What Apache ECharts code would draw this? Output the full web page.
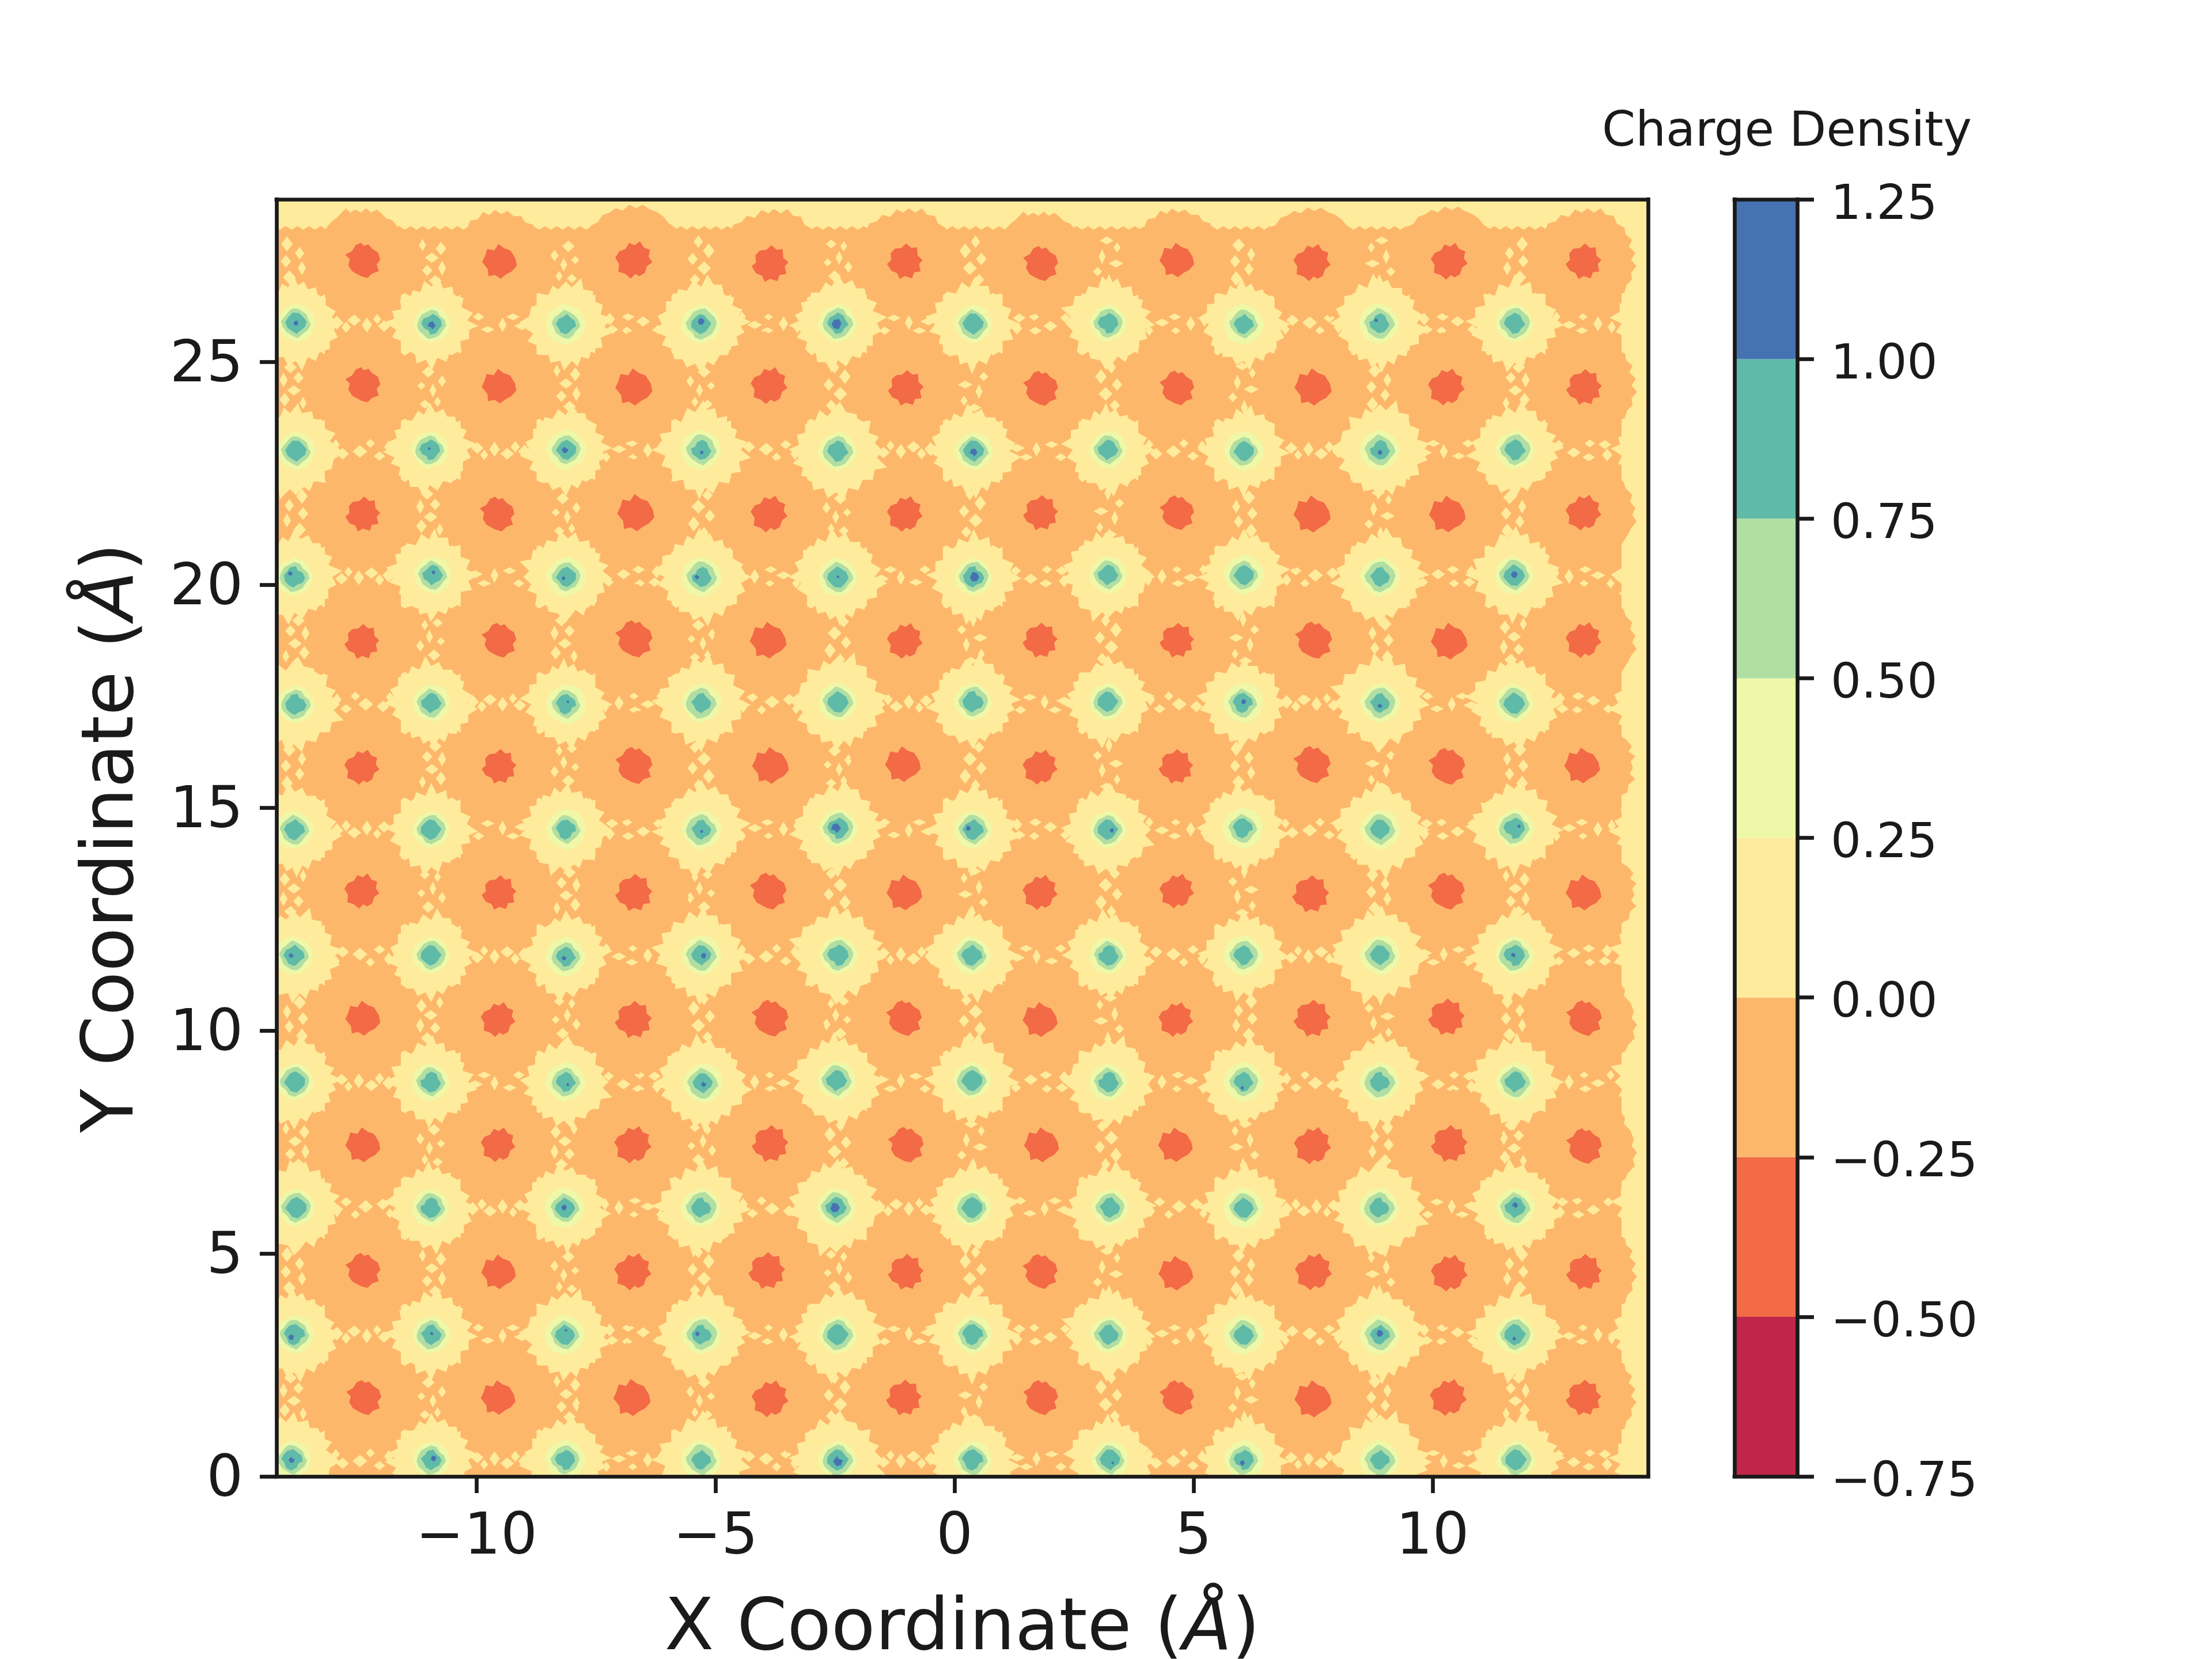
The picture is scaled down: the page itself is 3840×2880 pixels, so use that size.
<!DOCTYPE html>
<html><head><meta charset="utf-8">
<style>html,body{margin:0;padding:0;background:#fff}#c{width:3840px;height:2880px}</style>
<script src="https://cdn.jsdelivr.net/npm/echarts@6/dist/echarts.min.js"></script>
</head><body><div id="c"></div>
<script>
// ---- values ----
const xTicks = [-10, -5, 0, 5, 10];
const yTicks = [0, 5, 10, 15, 20, 25];
const xRange = [-14.186, 14.51];
const yRange = [0, 28.65];
const bandEdges = [-0.75, -0.5, -0.25, 0, 0.25, 0.5, 0.75, 1, 1.25];
const bandColors = ['#BF264A', '#F26A46', '#FDB76B', '#FEEB9C', '#EEF8A8', '#B0DEA3', '#5FBAA8', '#4672B2'];

// negative charge centres (red cores)
const redSites = [
[-12.38,27.28],[-9.52,27.26],[-6.71,27.29],[-3.86,27.21],[-1.04,27.26],[1.80,27.21],[4.65,27.29],[7.48,27.23],[10.35,27.26],[13.16,27.26],
[-12.38,24.49],[-9.53,24.46],[-6.71,24.44],[-3.88,24.47],[-1.02,24.42],[1.80,24.41],[4.65,24.42],[7.50,24.44],[10.29,24.44],[13.17,24.44],
[-12.38,21.59],[-9.57,21.59],[-6.67,21.62],[-3.88,21.59],[-1.04,21.59],[1.80,21.62],[4.65,21.62],[7.48,21.59],[10.31,21.59],[13.16,21.62],
[-12.40,18.73],[-9.53,18.76],[-6.71,18.79],[-3.90,18.76],[-1.04,18.74],[1.79,18.76],[4.65,18.76],[7.51,18.76],[10.35,18.74],[13.16,18.76],
[-12.40,15.91],[-9.53,15.93],[-6.71,15.95],[-3.85,15.95],[-1.08,15.98],[1.79,15.91],[4.63,15.93],[7.48,15.97],[10.30,15.93],[13.13,15.95],
[-12.40,13.13],[-9.53,13.10],[-6.71,13.10],[-3.90,13.13],[-1.05,13.10],[1.79,13.10],[4.65,13.13],[7.45,13.07],[10.29,13.13],[13.16,13.10],
[-12.38,10.28],[-9.55,10.25],[-6.72,10.25],[-3.86,10.28],[-1.06,10.28],[1.79,10.25],[4.63,10.25],[7.48,10.28],[10.29,10.31],[13.17,10.28],
[-12.38,7.44],[-9.55,7.44],[-6.73,7.44],[-3.86,7.47],[-1.02,7.44],[1.82,7.44],[4.62,7.44],[7.49,7.42],[10.35,7.47],[13.17,7.41],
[-12.38,4.62],[-9.54,4.59],[-6.73,4.59],[-3.93,4.62],[-1.02,4.59],[1.79,4.60],[4.63,4.56],[7.51,4.59],[10.35,4.56],[13.17,4.59],
[-12.36,1.77],[-9.55,1.77],[-6.75,1.77],[-3.86,1.74],[-1.06,1.77],[1.80,1.77],[4.65,1.77],[7.50,1.74],[10.33,1.77],[13.16,1.77]];

// positive charge centres
const posSites = [
[-13.78,25.87],[-10.94,25.85],[-8.13,25.85],[-5.30,25.85],[-2.44,25.87],[0.39,25.85],[3.21,25.87],[6.05,25.85],[8.89,25.87],[11.72,25.87],
[-13.78,23.00],[-10.98,23.03],[-8.13,23.03],[-5.30,23.03],[-2.44,23.00],[0.40,23.00],[3.21,23.03],[6.05,23.00],[8.90,23.03],[11.73,23.03],
[-13.81,20.18],[-10.92,20.22],[-8.13,20.18],[-5.29,20.18],[-2.44,20.18],[0.40,20.18],[3.21,20.22],[6.05,20.22],[8.90,20.18],[11.71,20.22],
[-13.78,17.32],[-10.95,17.35],[-8.13,17.32],[-5.30,17.35],[-2.44,17.38],[0.39,17.38],[3.21,17.38],[6.03,17.35],[8.90,17.35],[11.71,17.35],
[-13.81,14.51],[-10.95,14.51],[-8.13,14.51],[-5.30,14.51],[-2.44,14.54],[0.39,14.51],[3.21,14.51],[6.03,14.54],[8.90,14.51],[11.71,14.54],
[-13.82,11.69],[-10.95,11.69],[-8.13,11.66],[-5.30,11.69],[-2.44,11.69],[0.36,11.69],[3.22,11.69],[6.05,11.69],[8.90,11.69],[11.71,11.69],
[-13.81,8.85],[-10.96,8.85],[-8.13,8.85],[-5.27,8.82],[-2.47,8.88],[0.36,8.88],[3.22,8.85],[6.05,8.85],[8.90,8.85],[11.73,8.85],
[-13.78,6.03],[-10.96,6.03],[-8.15,6.03],[-5.30,6.03],[-2.48,6.03],[0.36,6.03],[3.25,6.03],[6.05,6.03],[8.89,6.03],[11.73,6.03],
[-13.81,3.18],[-10.95,3.18],[-8.15,3.18],[-5.29,3.18],[-2.44,3.18],[0.38,3.18],[3.22,3.18],[6.05,3.18],[8.90,3.18],[11.73,3.18],
[-13.86,0.37],[-10.95,0.37],[-8.15,0.37],[-5.30,0.37],[-2.44,0.37],[0.38,0.37],[3.25,0.37],[6.05,0.37],[8.90,0.37],[11.75,0.37]];

// pale lobes reaching in from beyond the right edge
const rightEdgeLobes = [[14.72,25.86],[14.72,23.02],[14.72,20.19],[14.72,17.35],[14.72,14.52],[14.72,11.69],[14.72,8.85],[14.72,6.03],[14.72,3.18],[14.72,0.37]];

// spots above 1.0 : x, y, estimated peak
const peakSpots = [
[-13.78,25.87,1.05],[-10.94,25.82,1.10],[-5.30,25.91,1.08],[-10.99,23.06,1.02],[-8.15,23.03,1.08],[-5.29,22.97,1.03],
[-13.90,20.25,1.05],[-10.90,20.28,1.03],[-8.18,20.15,1.03],[-5.39,20.18,1.05],[-2.47,25.85,1.13],[0.40,22.97,1.10],
[-2.44,20.18,1.02],[0.42,20.18,1.12],[8.82,25.94,1.04],[8.90,22.97,1.05],[11.71,20.23,1.08],[-8.09,17.37,1.02],
[-5.29,14.47,1.02],[-13.88,11.69,1.05],[-8.17,11.63,1.05],[-5.25,11.68,1.06],[-2.48,14.54,1.13],[0.29,14.54,1.05],
[6.05,17.38,1.05],[8.90,17.29,1.05],[3.29,14.49,1.04],[11.81,14.58,1.03],[11.69,11.69,1.05],[-8.09,8.79,1.02],
[-5.25,8.80,1.06],[-8.17,6.03,1.06],[-13.88,3.12,1.06],[-10.94,3.20,1.03],[-5.38,3.20,1.04],[-8.13,3.28,1.02],
[-13.87,0.37,1.07],[-10.90,0.40,1.06],[6.02,8.71,1.03],[-2.50,6.03,1.12],[8.90,3.21,1.08],[-2.44,0.34,1.13],
[6.02,0.30,1.05],[3.31,0.30,1.02],[11.73,6.08,1.07],[11.71,3.09,1.03]];

// speckled gaps between the sites: columns and rows they sit on
const redColumns = [-12.38,-9.54,-6.72,-3.88,-1.04,1.80,4.64,7.49,10.32,13.16];
const posColumns = [-13.81,-10.95,-8.14,-5.30,-2.45,0.38,3.22,6.05,8.90,11.72];
const redRows = [27.26,24.44,21.60,18.76,15.94,13.11,10.27,7.44,4.59,1.77];
const posRows = [25.86,23.02,20.19,17.35,14.52,11.69,8.85,6.03,3.18,0.37];

// ---- marks' outlines (style only) ----
const HALO = [
'M30 6L34 2L38 6L43 3L48 6L53 2L58 6L63 3L68 7L72 11L78 13L82 18L88 24L87 30L93 36L96 44L94 50L99 56L95 62L97 68L91 74L88 80L82 83L78 89L72 91L66 95L60 93L54 98L48 95L42 98L36 94L30 92L24 88L19 82L13 78L11 72L5 66L7 60L2 54L5 48L1 42L6 36L9 30L13 24L17 18L22 13L26 10Z',
'M26 10L32 5L37 8L41 2L46 6L52 4L57 7L62 2L67 8L74 9L77 15L84 18L86 25L92 30L90 37L97 43L94 49L98 54L94 60L98 66L92 71L91 78L84 81L80 88L74 89L69 95L63 92L57 98L51 94L45 99L39 94L33 95L28 90L21 88L18 81L11 78L10 71L3 66L6 60L1 55L5 49L2 43L7 37L7 30L13 26L15 19L22 16Z'];
const YELLOW = [
'M48 2L52 12L58 8L62 16L70 14L72 22L80 24L80 32L90 38L86 44L98 50L88 56L92 64L84 68L84 76L74 78L70 88L62 84L56 98L50 88L42 92L38 84L28 84L28 76L16 72L18 64L8 58L14 50L2 44L12 38L12 30L22 28L24 18L32 20L36 10L42 14Z',
'M40 6L46 12L54 2L58 12L68 10L70 18L78 18L82 28L92 32L86 40L94 46L100 52L90 58L88 68L80 70L82 82L70 80L66 90L60 86L52 94L46 88L36 98L34 86L24 84L24 74L14 70L16 60L4 56L12 48L6 40L16 36L14 26L26 24L28 14L36 16Z',
'M52 0L56 10L64 8L66 18L76 16L76 26L86 30L84 38L96 42L90 50L100 58L88 62L90 72L80 74L78 84L68 82L62 94L54 88L48 100L44 90L34 90L32 80L20 82L22 70L10 66L14 56L0 50L12 44L8 34L20 32L20 20L30 22L36 8L44 12Z'];
const LIME = [
'M38 4L52 1L66 5L80 10L90 26L97 44L94 62L88 78L72 90L55 98L38 93L20 84L8 68L2 50L8 30L20 14Z',
'M42 2L58 3L74 10L86 20L92 36L99 52L92 70L80 84L64 92L48 99L30 92L14 80L6 62L1 46L10 26L26 10Z'];
const GREEN = [
'M40 3L58 5L72 14L84 22L90 40L98 54L88 72L72 84L56 98L38 90L20 78L8 62L2 44L16 28L28 12Z',
'M46 2L64 8L80 18L88 34L96 50L90 68L74 78L64 92L46 98L30 86L14 74L6 56L4 38L18 22L30 8Z'];
const TEAL = [
'M36 4L62 6L78 22L94 42L88 66L70 80L52 97L32 84L14 70L4 46L18 24Z',
'M30 8L56 2L72 16L92 30L97 56L78 64L70 84L46 97L24 86L16 62L3 44L14 24Z',
'M50 2L74 12L84 32L97 50L84 74L60 86L44 98L28 80L8 66L2 40L22 26L36 10Z'];
const RED = [
'M30 8L44 2L52 10L64 6L74 18L90 28L96 48L86 60L92 78L74 84L62 96L46 92L34 86L20 78L10 62L14 46L2 34L20 24Z',
'M44 0L54 12L72 10L84 22L86 40L98 54L86 68L88 84L66 86L54 100L44 90L24 94L22 76L6 70L12 50L4 36L20 28L26 12Z',
'M22 16L36 8L46 14L58 2L72 14L90 20L88 40L98 56L88 72L72 78L62 94L48 88L34 98L24 82L8 76L12 58L2 44L16 34Z',
'M40 4L60 0L76 14L84 30L96 46L86 62L90 80L70 82L50 98L34 90L14 84L18 64L0 52L12 36L18 18Z'];
const BLUE = ['M30 5L70 0L92 40L70 100L30 92L8 50Z', 'M50 0L96 42L70 60L60 100L14 80L4 36Z'];

function speckle(list) {
  // corner dots fix the outline's box to 130 x 120, so 1 unit is 1 pixel
  const all = [[0, 0, 0.05, 0.05], [130, 120, 0.05, 0.05]].concat(list);
  return all.map(d => `M${d[0]} ${d[1] - d[3]}L${d[0] + d[2]} ${d[1]}L${d[0]} ${d[1] + d[3]}L${d[0] - d[2]} ${d[1]}Z`).join('');
}
const SPECK_A = [
 speckle([[20,58,11,12],[36,66,8,10],[50,54,12,10],[72,62,9,13],[90,52,7,9],[102,64,11,10]]),
 speckle([[24,68,9,11],[28,50,11,8],[54,48,9,7],[56,72,11,7],[82,64,12,9],[108,50,9,8]]),
 speckle([[18,50,7,9],[30,66,11,10],[60,62,13,11],[78,48,8,8],[94,70,10,8],[110,54,8,11]]),
 speckle([[24,56,14,7],[40,72,12,6],[58,58,7,13],[84,50,12,6],[100,72,10,7]]),
 speckle([[16,66,7,11],[40,60,8,13],[66,48,8,6],[68,72,11,6],[90,62,13,7],[112,48,7,9]])];
const SPECK_B = [
 speckle([[52,30,10,13],[74,46,8,11],[50,60,9,11],[78,72,7,12],[56,88,11,12]]),
 speckle([[70,26,8,11],[52,42,10,13],[80,56,9,11],[60,72,12,12],[76,92,9,10]]),
 speckle([[58,26,11,10],[46,48,7,13],[72,44,9,10],[64,66,12,9],[48,82,9,12],[80,88,6,11]]),
 speckle([[64,24,6,14],[84,42,8,8],[52,56,13,7],[76,68,6,13],[50,84,6,9],[68,96,12,7]]),
 speckle([[76,30,9,8],[54,34,6,9],[62,54,6,12],[82,62,7,7],[46,70,7,10],[70,86,11,10]])];
const GAP_TILE = 'M0 6L10 0L20 6L30 0L40 6L50 0L60 6L70 0L80 6L90 0L100 6L110 0L120 6L130 0L130 120L120 114L110 120L100 114L90 120L80 114L70 120L60 114L50 120L40 114L30 120L20 114L10 120L0 120Z';

// ---- tables built from the lists above ----
const gapA = [], gapB = [];
posRows.forEach(y => redColumns.forEach(x => gapA.push([x, y])));
redRows.forEach(y => posColumns.forEach(x => gapB.push([x, y])));

const TXT = '#1a1a1a', FONT = 'DejaVu Sans', LW = 6.67, TICK = 29;
const minus = v => String(v).replace('-', '\u2212');
const VARY = [1, 0.97, 1.03, 0.98, 1.04];

// one clipped outline per data row, placed through the axes
function blobs(name, data, color, shapes, size, k, mode) {
  return { type: 'custom', name, data, silent: true, clip: true, encode: { x: 0, y: 1 },
    renderItem: (params, api) => {
      const i = params.dataIndex, p = api.coord([api.value(0), api.value(1)]);
      const sz = typeof size === 'function' ? size(api.value(2)) : size;
      const h2 = i * k + (i >> 2);
      const m = (mode === 'flip' || mode === 'none' || typeof size === 'function') ? 1 : VARY[(i * 3 + k) % VARY.length];
      const w = (Array.isArray(sz) ? sz[0] : sz) * m, h = (Array.isArray(sz) ? sz[1] : sz) * m;
      const el = { type: 'path', x: p[0], y: p[1],
        shape: { pathData: shapes[h2 % shapes.length], x: -w / 2, y: -h / 2, width: w, height: h, layout: 'cover' },
        style: { fill: color } };
      if (mode === 'flip') { el.scaleX = (h2 % 2) ? -1 : 1; el.scaleY = ((h2 >> 1) % 2) ? -1 : 1; }
      else if (mode !== 'none') { el.rotation = (h2 % 4) * Math.PI / 2; }
      return el;
    } };
}
const lineStyle = { color: TXT, width: LW, cap: 'square' };
const edge = (extra) => Object.assign({ type: 'value', splitLine: { show: false }, axisTick: { show: false },
  axisLabel: { show: false }, axisLine: { show: true, onZero: false, lineStyle }, z: 20 }, extra);

const axisName = (t) => `{a|${t} Coordinate (}{i|Å}{a|)}`;
const nameStyle = { color: TXT, fontFamily: FONT, fontSize: 125,
  rich: { a: { fontFamily: FONT, fontSize: 125, color: TXT }, i: { fontFamily: FONT, fontSize: 125, color: TXT, fontStyle: 'italic' } } };

const chart = echarts.init(document.getElementById('c'), null, { renderer: 'canvas', width: 3840, height: 2880 });
chart.setOption({
  animation: false,
  backgroundColor: '#ffffff',
  title: { text: 'Charge Density', left: 3097, top: 185, textAlign: 'center',
    textStyle: { color: TXT, fontFamily: FONT, fontSize: 83.3, fontWeight: 'normal' } },
  grid: [
    { left: 480, top: 346, width: 2381, height: 2217, show: true, backgroundColor: bandColors[3], borderWidth: 0, outerBoundsMode: 'none' },
    { left: 3011, top: 346, width: 109, height: 2217, show: false, outerBoundsMode: 'none' }
  ],
  xAxis: [
    edge({ gridIndex: 0, min: xRange[0], max: xRange[1], position: 'bottom', name: axisName('X'), nameLocation: 'middle', nameGap: 205, nameTextStyle: nameStyle,
      axisTick: { show: true, length: TICK, lineStyle: { color: TXT, width: LW }, customValues: xTicks },
      axisLabel: { show: true, color: TXT, fontFamily: FONT, fontSize: 100, margin: 58, customValues: xTicks, formatter: minus } }),
    edge({ gridIndex: 0, min: xRange[0], max: xRange[1], position: 'top' }),
    edge({ gridIndex: 1, min: 0, max: 1, position: 'bottom' }),
    edge({ gridIndex: 1, min: 0, max: 1, position: 'top' })
  ],
  yAxis: [
    edge({ gridIndex: 0, min: yRange[0], max: yRange[1], position: 'left', name: axisName('Y'), nameLocation: 'middle', nameGap: 220, nameRotate: 90, nameTextStyle: nameStyle,
      axisTick: { show: true, length: TICK, lineStyle: { color: TXT, width: LW }, customValues: yTicks },
      axisLabel: { show: true, color: TXT, fontFamily: FONT, fontSize: 100, margin: 58, customValues: yTicks, formatter: minus, verticalAlign: 'top', lineHeight: 16 } }),
    edge({ gridIndex: 0, min: yRange[0], max: yRange[1], position: 'right' }),
    edge({ gridIndex: 1, min: bandEdges[0], max: bandEdges[bandEdges.length - 1], interval: 0.25, position: 'right',
      axisTick: { show: true, length: TICK, lineStyle: { color: TXT, width: LW } },
      axisLabel: { show: true, color: TXT, fontFamily: FONT, fontSize: 83.3, margin: 58, verticalAlign: 'top', lineHeight: 24,
        formatter: v => minus(Number(v).toFixed(2)) } }),
    edge({ gridIndex: 1, min: bandEdges[0], max: bandEdges[bandEdges.length - 1], position: 'left' })
  ],
  series: [
    blobs('gap base A', gapA, bandColors[2], [GAP_TILE], [132, 122], 1, 'none'),
    blobs('gap base B', gapB, bandColors[2], [GAP_TILE], [132, 122], 1, 'none'),
    blobs('gap speckle A', gapA, bandColors[3], SPECK_A, [130, 120], 3, 'flip'),
    blobs('gap speckle B', gapB, bandColors[3], SPECK_B, [130, 120], 7, 'flip'),
    blobs('-0.25..0', redSites, bandColors[2], HALO, 184, 3),
    blobs('right lobes', rightEdgeLobes, bandColors[3], YELLOW, 168, 5),
    blobs('0..0.25', posSites, bandColors[3], YELLOW, 166, 5),
    blobs('0.25..0.5', posSites, bandColors[4], LIME, 68, 3),
    blobs('0.5..0.75', posSites, bandColors[5], GREEN, 52, 5),
    blobs('0.75..1', posSites, bandColors[6], TEAL, 36, 7),
    blobs('1..1.25', peakSpots, bandColors[7], BLUE, v => 3 + (v - 1) * 110, 3),
    blobs('-0.5..-0.25', redSites, bandColors[1], RED, 62, 3),
    { type: 'custom', name: 'colour bar', xAxisIndex: 2, yAxisIndex: 2, silent: true, clip: true,
      data: bandColors.map((c, i) => [bandEdges[i], bandEdges[i + 1]]),
      encode: { y: [0, 1] },
      renderItem: (params, api) => {
        const a = api.coord([0, api.value(0)]), b = api.coord([1, api.value(1)]);
        return { type: 'rect', shape: { x: a[0], y: b[1], width: b[0] - a[0], height: a[1] - b[1] },
          style: { fill: bandColors[params.dataIndex] } };
      } }
  ]
});
</script></body></html>
